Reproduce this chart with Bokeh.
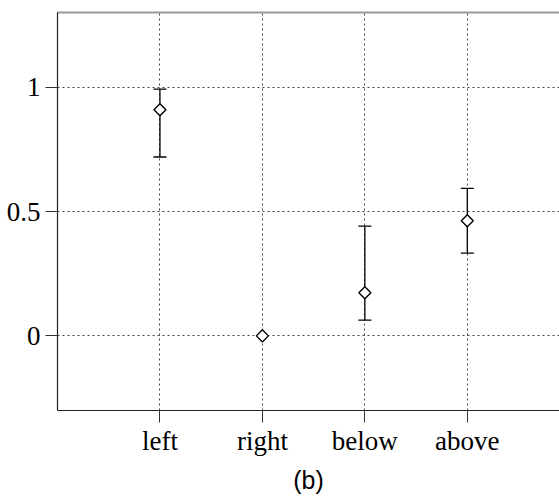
import math

from bokeh.embed import file_html
from bokeh.models import (ColumnDataSource, FixedTicker, LinearAxis, Range1d,
                          TeeHead, Title, Whisker)
from bokeh.plotting import figure
from bokeh.resources import INLINE

# Conditions and measured scores with their error-bar bounds
categories = ["left", "right", "below", "above"]
means = [0.909, 0.0, 0.173, 0.463]
lower = [0.719, float("nan"), 0.063, 0.333]
upper = [0.992, float("nan"), 0.441, 0.593]
y_ticks = [0, 0.5, 1]

xs = list(range(1, len(categories) + 1))

p = figure(width=559, height=498, output_backend="svg", toolbar_location=None,
           x_range=Range1d(0, 4.9), y_range=Range1d(-0.3, 1.3),
           min_border_left=57, min_border_right=0, min_border_top=12,
           min_border_bottom=0)
p.outline_line_color = None
p.background_fill_color = "white"
p.border_fill_color = "white"

serif = "Liberation Serif"

# axes
for ax in (p.xaxis[0], p.yaxis[0]):
    ax.axis_line_color = "#222222"
    ax.axis_line_width = 1.2
    ax.major_tick_line_color = "#333333"
    ax.major_tick_in = 0
    ax.major_tick_out = 12
    ax.minor_tick_line_color = None
    ax.major_label_text_font = serif
    ax.major_label_text_font_size = "27px"
    ax.major_label_text_color = "black"

p.xaxis.ticker = FixedTicker(ticks=xs)
p.xaxis.major_label_overrides = {x: c for x, c in zip(xs, categories)}
p.xaxis.major_label_standoff = 3
p.yaxis.ticker = FixedTicker(ticks=y_ticks)
p.yaxis.major_label_overrides = {0: "0", 0.5: "0.5", 1: "1"}
p.yaxis.major_label_standoff = 5

# top frame edge
top = LinearAxis(ticker=FixedTicker(ticks=[]), axis_line_color="#999999",
                 axis_line_width=2, major_tick_line_color=None,
                 minor_tick_line_color=None, major_label_text_font_size="0px")
p.add_layout(top, "above")

# dotted grid
for g in (p.xgrid[0], p.ygrid[0]):
    g.grid_line_color = "#444444"
    g.grid_line_dash = "2 3"
    g.grid_line_width = 1
p.xgrid.ticker = FixedTicker(ticks=xs)
p.ygrid.ticker = FixedTicker(ticks=y_ticks)

# error bars (only where bounds exist)
idx = [i for i in range(len(xs)) if not math.isnan(lower[i])]
err = ColumnDataSource(data=dict(x=[xs[i] for i in idx],
                                 lo=[lower[i] for i in idx],
                                 hi=[upper[i] for i in idx]))
wh = Whisker(source=err, base="x", lower="lo", upper="hi", dimension="height",
             line_color="black", line_width=1.3,
             lower_head=TeeHead(size=13, line_color="black", line_width=1.3),
             upper_head=TeeHead(size=13, line_color="black", line_width=1.3))
p.add_layout(wh)

# diamond markers for the means
pts = ColumnDataSource(data=dict(x=xs, y=means))
p.scatter("x", "y", source=pts, marker="square", size=8.5, angle=math.pi / 4,
          fill_color="white", line_color="black", line_width=1.4)

p.add_layout(Title(text="(b)", align="center", text_font="Liberation Sans",
                   text_font_size="25px", text_font_style="normal",
                   text_color="black", standoff=10), "below")

open("out.html", "w").write(file_html(p, INLINE))
